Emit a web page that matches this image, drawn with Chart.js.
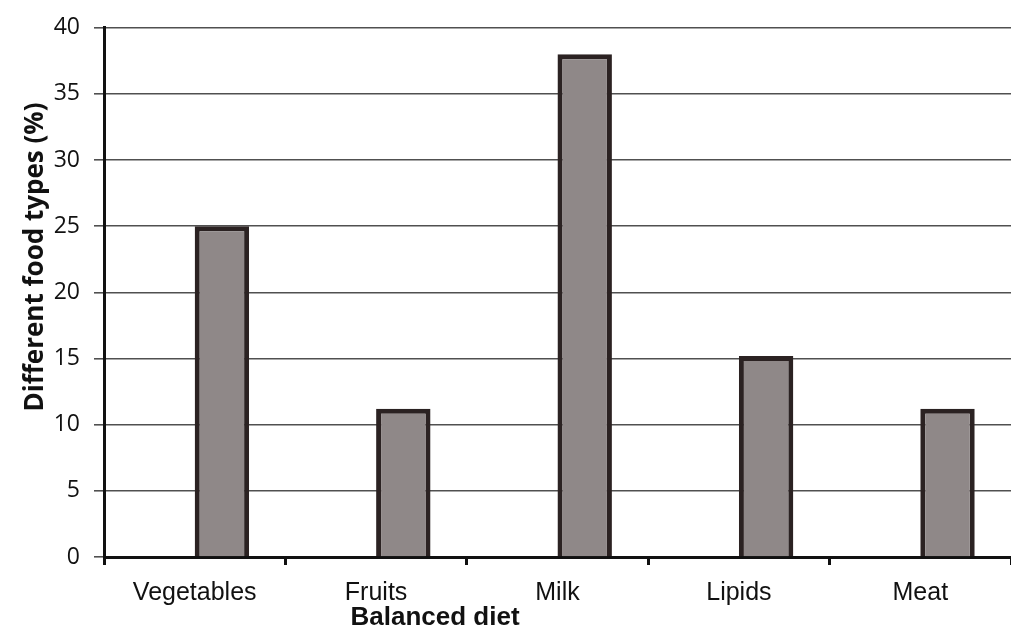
<!DOCTYPE html>
<html>
<head>
<meta charset="utf-8">
<script src="https://cdn.jsdelivr.net/npm/chart.js@4/dist/chart.umd.min.js"></script>
<style>
  html, body { margin: 0; padding: 0; background: #ffffff; }
  #wrap { width: 1011px; height: 632px; position: relative; }
</style>
</head>
<body>
<div id="wrap"><canvas id="c" width="1011" height="632"></canvas></div>
<script>
// Share of each food type in a balanced diet
const categories = ['Vegetables', 'Fruits', 'Milk', 'Lipids', 'Meat'];
const shares = [25, 11.2, 38, 15.2, 11.2];
const yTicks = [0, 5, 10, 15, 20, 25, 30, 35, 40];
const xTitle = 'Balanced diet';
const yTitle = 'Different food types (%)';

const sans = 'Liberation Sans, Arial, Helvetica, sans-serif';
const humanist = 'Open Sans, Liberation Sans, sans-serif';

// Axis titles, placed off-centre under and beside the plot
const axisTitles = {
  id: 'axisTitles',
  afterDraw(chart) {
    const { ctx, chartArea: a } = chart;
    ctx.save();
    ctx.fillStyle = '#111';
    ctx.textAlign = 'center';
    ctx.textBaseline = 'alphabetic';
    ctx.font = 'bold 26px ' + sans;
    ctx.fillText(xTitle, a.left + (a.right - a.left) * 0.365, 625);
    ctx.translate(43, a.top + (a.bottom - a.top) * 0.433);
    ctx.rotate(-Math.PI / 2);
    ctx.font = 'bold 26px ' + humanist;
    ctx.fillText(yTitle, 0, 0);
    ctx.restore();
  }
};

new Chart(document.getElementById('c'), {
  type: 'bar',
  data: {
    labels: categories,
    datasets: [
      // empty leading slot so each bar sits right of its category centre
      { data: categories.map(() => null), backgroundColor: 'rgba(0,0,0,0)', borderWidth: 0 },
      {
        data: shares,
        backgroundColor: '#8f8888',
        borderColor: '#2b2222',
        borderWidth: 5
      }
    ]
  },
  options: {
    responsive: false,
    animation: false,
    datasets: { bar: { barPercentage: 1.0, categoryPercentage: 0.6 } },
    layout: { padding: { top: 25, right: 0, left: 0, bottom: 0 } },
    plugins: { legend: { display: false }, tooltip: { enabled: false } },
    scales: {
      x: {
        offset: true,
        grid: { display: true, drawOnChartArea: false, offset: true, color: '#111', lineWidth: 3, tickLength: 8 },
        border: { display: true, color: '#111', width: 3 },
        ticks: { color: '#111', font: { family: sans, size: 25 }, padding: 13 },
        afterFit: s => { s.height = 75; }
      },
      y: {
        min: 0,
        max: 40,
        afterBuildTicks: s => { s.ticks = yTicks.map(v => ({ value: v })); },
        grid: { color: '#505050', lineWidth: 1.6, tickLength: 10, drawTicks: true },
        border: { display: true, color: '#111', width: 3 },
        ticks: { color: '#111', font: { family: humanist, size: 23 }, padding: 14 },
        afterFit: s => { s.width = 104; }
      }
    }
  },
  plugins: [axisTitles]
});
</script>
</body>
</html>
